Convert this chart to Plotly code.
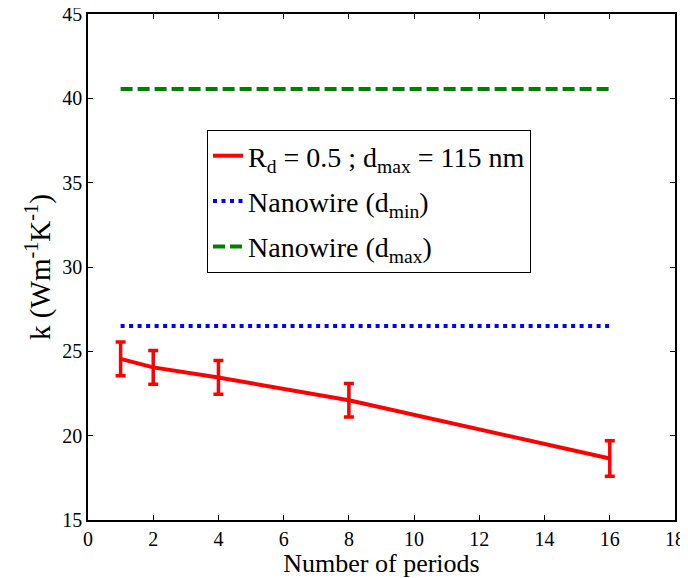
import plotly.graph_objects as go

periods = [1, 2, 4, 8, 16]
k_values = [24.55, 24.05, 23.45, 22.1, 18.65]
k_errors = [1.0, 1.0, 1.0, 1.0, 1.05]
nw_x = [1, 16]
nw_dmin = [26.5, 26.5]
nw_dmax = [40.55, 40.55]

xticks = [0, 2, 4, 6, 8, 10, 12, 14, 16, 18]
yticks = [15, 20, 25, 30, 35, 40, 45]

font_family = "Liberation Serif, Times New Roman, serif"

fig = go.Figure()
fig.add_trace(go.Scatter(
    x=periods, y=k_values, mode="lines",
    line=dict(color="#ff0000", width=4),
    error_y=dict(type="data", array=k_errors, visible=True, color="#ff0000", thickness=3.5, width=5),
    name="R<sub>d</sub> = 0.5 ; d<sub>max</sub> = 115 nm", legendgroup="a"))
fig.add_trace(go.Scatter(
    x=nw_x, y=nw_dmin, mode="lines",
    line=dict(color="#0000ff", width=4, dash="4px,4.5px"),
    name="Nanowire (d<sub>min</sub>)", legendgroup="b"))
fig.add_trace(go.Scatter(
    x=nw_x, y=nw_dmax, mode="lines",
    line=dict(color="#008000", width=4, dash="12px,5px"),
    name="Nanowire (d<sub>max</sub>)", legendgroup="c"))

axis_common = dict(showline=True, linecolor="black", linewidth=1.5, mirror="allticks",
                   ticks="inside", ticklen=5, tickcolor="black", showgrid=False, zeroline=False,
                   automargin=False, ticklabeloverflow="allow",
                   tickfont=dict(family=font_family, size=20, color="black"))

# page body has an 8px default margin, so the figure is drawn 8px in from the top-left
fig.update_layout(
    width=680, height=570,
    margin=dict(l=80, r=13, t=6, b=58),
    paper_bgcolor="white", plot_bgcolor="white",
    font=dict(family=font_family, color="black"),
    xaxis=dict(range=[0, 18], tickvals=xticks,
               title=dict(text="Number of periods", font=dict(size=26), standoff=2), **axis_common),
    yaxis=dict(range=[15, 45], tickvals=yticks,
               title=dict(text="k (Wm<sup>-1</sup>K<sup>-1</sup>)", font=dict(size=29), standoff=3), **axis_common),
    legend=dict(x=(207 - 88) / 587, y=(520 - 130) / 506, xanchor="left", yanchor="top",
                bgcolor="white", bordercolor="black", borderwidth=1,
                font=dict(family=font_family, size=28, color="black"),
                traceorder="grouped", tracegroupgap=6),
    showlegend=True,
)

fig.write_html("out.html")
